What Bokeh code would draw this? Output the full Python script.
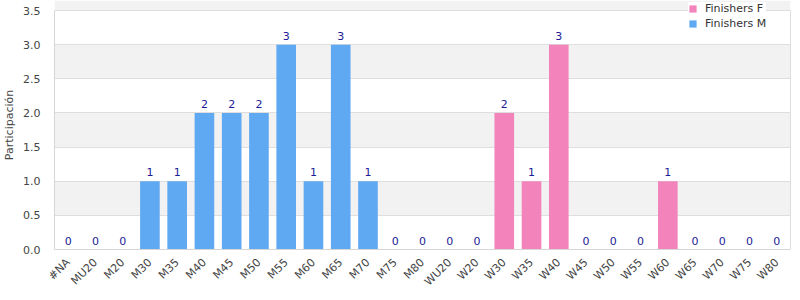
import math
from bokeh.plotting import figure
from bokeh.models import (ColumnDataSource, SingleIntervalTicker, NumeralTickFormatter, Range1d,
                          Legend, LinearAxis, FixedTicker)
from bokeh.core.properties import value
from bokeh.embed import file_html
from bokeh.resources import INLINE

categories = ["#NA", "MU20", "M20", "M30", "M35", "M40", "M45", "M50", "M55", "M60", "M65", "M70",
              "M75", "M80", "WU20", "W20", "W30", "W35", "W40", "W45", "W50", "W55", "W60", "W65",
              "W70", "W75", "W80"]
finishers_m = [0, 0, 0, 1, 1, 2, 2, 2, 3, 1, 3, 1, 0, 0, 0, 0, 0, 0, 0, 0, 0, 0, 0, 0, 0, 0, 0]
finishers_f = [0, 0, 0, 0, 0, 0, 0, 0, 0, 0, 0, 0, 0, 0, 0, 0, 2, 1, 3, 0, 0, 0, 1, 0, 0, 0, 0]
totals = [m + f for m, f in zip(finishers_m, finishers_f)]
y_max = 3.5

src = ColumnDataSource(dict(cat=categories, m=finishers_m, f=finishers_f,
                            tot=totals, lab=[str(t) for t in totals]))

FONT = "DejaVu Sans"
W, H = 800, 300
TOP_GAP = 10      # room above the axis top for the legend
BOTTOM = 51
frame_h = H - BOTTOM
y_end = y_max * frame_h / (frame_h - TOP_GAP)

p = figure(x_range=categories, y_range=Range1d(0, y_end), width=W, height=H,
           output_backend="svg", toolbar_location=None)
p.min_border_left = 50
p.min_border_right = 10
p.min_border_top = 0
p.min_border_bottom = BOTTOM
p.x_range.range_padding = 0
p.outline_line_color = None

rf = p.vbar(x="cat", top="f", width=0.72, source=src, fill_color="#f383bb", line_color=None)
rm = p.vbar(x="cat", top="m", width=0.72, source=src, fill_color="#5fa8f2", line_color=None)

p.text(x="cat", y="tot", text="lab", source=src, text_align="center", text_baseline="bottom",
       y_offset=-5, text_font=value(FONT), text_font_size="11px", text_color="#1c1c96")

legend = Legend(items=[("Finishers F", [rf]), ("Finishers M", [rm])], location=(634, 219))
legend.background_fill_color = "white"
legend.background_fill_alpha = 1
legend.border_line_color = None
legend.label_text_font = FONT
legend.label_text_font_size = "11px"
legend.label_text_color = "#333333"
legend.glyph_width = 9
legend.glyph_height = 9
legend.label_standoff = 8
legend.spacing = 2
legend.padding = 4
legend.margin = 0
legend.label_height = 12
p.add_layout(legend)

ticker = SingleIntervalTicker(interval=0.5)
p.yaxis.ticker = ticker
p.yaxis.bounds = (0, y_max)
p.yaxis.formatter = NumeralTickFormatter(format="0.0")
p.yaxis.axis_label = "Participación"
p.yaxis.axis_label_text_font = FONT
p.yaxis.axis_label_text_font_style = "normal"
p.yaxis.axis_label_text_font_size = "11px"
p.yaxis.axis_label_text_color = "#444444"
p.yaxis.axis_label_standoff = 4
p.yaxis.major_label_standoff = 8

for ax in (p.xaxis, p.yaxis):
    ax.major_label_text_font = FONT
    ax.major_label_text_font_size = "11px"
    ax.major_label_text_color = "#444444"
    ax.axis_line_color = "#d6d6d6"
    ax.major_tick_line_color = None
    ax.minor_tick_line_color = None
p.xaxis.major_label_orientation = math.pi / 4

right_ax = LinearAxis(ticker=FixedTicker(ticks=[]), bounds=(0, y_max), axis_line_color="#dddddd",
                      major_tick_line_color=None, minor_tick_line_color=None,
                      major_label_standoff=0)
p.add_layout(right_ax, "right")

p.xgrid.grid_line_color = None
p.ygrid.grid_line_color = "#dedede"
p.ygrid.band_fill_color = "#f2f2f2"
p.ygrid.band_fill_alpha = 1

open("out.html", "w").write(file_html(p, INLINE))
